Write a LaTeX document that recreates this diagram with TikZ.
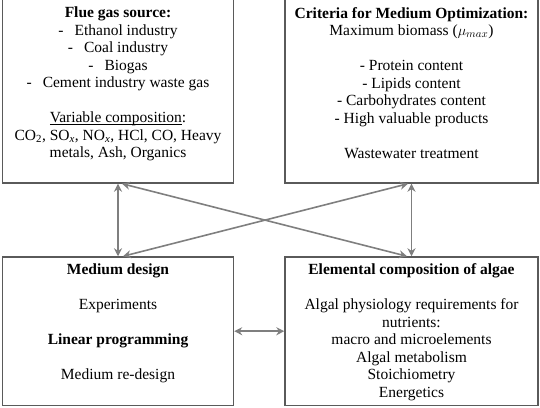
\documentclass[tikz,border=0pt]{standalone}
\usepackage{fontspec}
\setmainfont{Liberation Serif}
\usetikzlibrary{arrows.meta,positioning}
\definecolor{boxLine}{HTML}{5A5A5A}
\definecolor{linkGray}{HTML}{7F7F7F}
\newcommand{\gap}{\hspace{11pt}}
\newcommand{\lowline}[1]{\underline{\smash{#1}}}

\begin{document}
\begin{tikzpicture}[
      x=1pt,y=-1pt,
      font=\fontsize{15.5}{17.5}\selectfont,
      box/.style={draw=boxLine,line width=1.4pt,fill=white,minimum width=231pt,inner sep=0pt},
      wide/.style={box,minimum width=253pt},
      txt/.style={align=center,inner sep=0pt,anchor=north},
      link/.style={{Stealth[length=8pt,width=8pt]}-{Stealth[length=8pt,width=8pt]},draw=linkGray,line width=1.6pt}
    ]
    \useasboundingbox (0,0) rectangle (540,407);

    % the four boxes, top edge of the upper pair runs off the page
    \node[box,minimum height=186pt]  (flue)   at (118,90)    {};
    \node[wide,minimum height=186pt] (crit)   at (411.5,90)  {};
    \node[box,minimum height=148.5pt]  (design) at (118,331.2)   {};
    \node[wide,minimum height=148.5pt] (elem)   at (411.5,331.2) {};

    \node[txt] (flueTxt) at (118,7)
      {\textbf{Flue gas source:}\\
       -\gap Ethanol industry\\
       -\gap Coal industry\\
       -\gap Biogas\\
       -\gap Cement industry waste gas\\[17.5pt]
       \lowline{Variable composition}:\\
       CO\textsubscript{2}, SO\textsubscript{\textit{x}}, NO\textsubscript{\textit{x}}, HCl, CO, Heavy\\
       metals, Ash, Organics};

    \node[txt] (critTxt) at (411.5,7)
      {\textbf{Criteria for Medium Optimization:}\\
       Maximum biomass ($\mu_{max}$)\\[17.5pt]
       - Protein content\\
       - Lipids content\\
       - Carbohydrates content\\
       - High valuable products\\[17.5pt]
       Wastewater treatment};

    \node[txt] (designTxt) at (118,263.5)
      {\textbf{Medium design}\\[17.5pt]
       Experiments\\[17.5pt]
       \textbf{Linear programming}\\[17.5pt]
       Medium re-design};

    \node[txt] (elemTxt) at (411.5,263.5)
      {\textbf{Elemental composition of algae}\\[17.5pt]
       Algal physiology requirements for\\
       nutrients:\\
       macro and microelements\\
       Algal metabolism\\
       Stoichiometry\\
       Energetics};

    \draw[link] (flue.south) -- (design.north);
    \draw[link] (crit.south) -- (elem.north);
    \draw[link] ([xshift=4pt]flue.south) -- ([xshift=-4.5pt]elem.north);
    \draw[link] ([xshift=-3.5pt]crit.south) -- ([xshift=5pt]design.north);
    \draw[link] (design.east) -- (elem.west);
  \end{tikzpicture}
\end{document}
